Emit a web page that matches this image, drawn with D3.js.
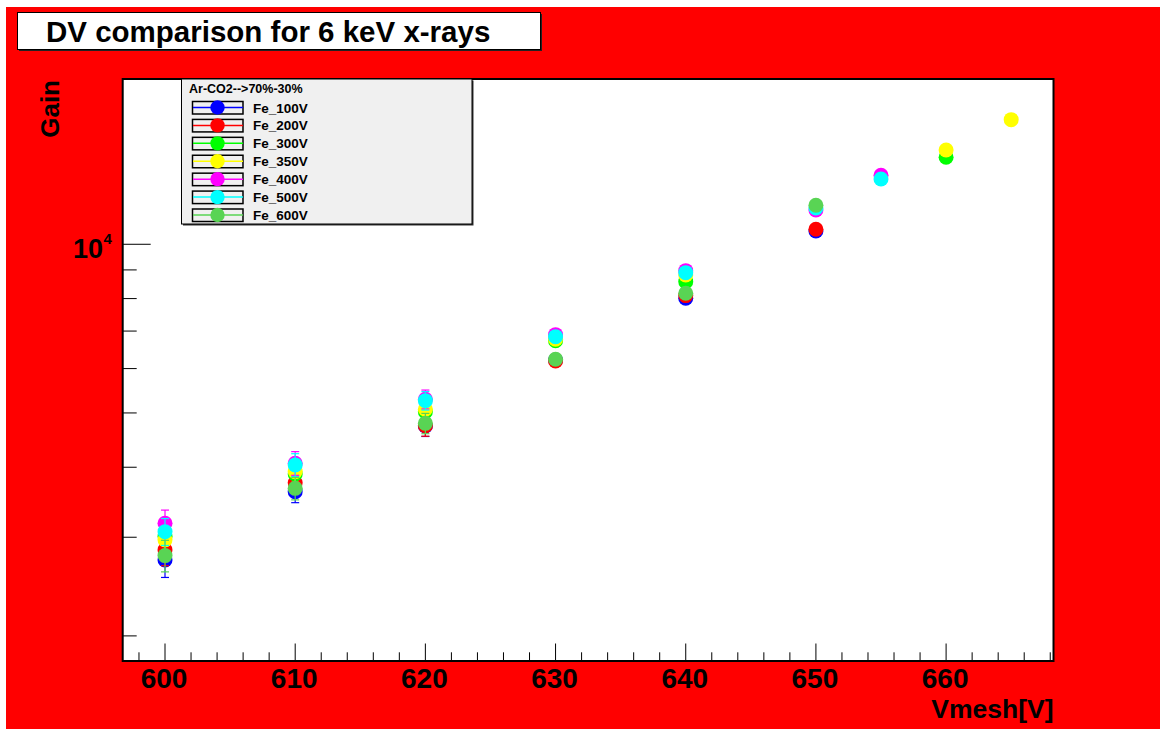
<!DOCTYPE html>
<html>
<head>
<meta charset="utf-8">
<script src="https://cdn.jsdelivr.net/npm/d3@7"></script>
<style>
  body { margin: 0; background: #ffffff; }
  svg text { font-family: "Liberation Sans", Arial, Helvetica, sans-serif; font-weight: bold; }
</style>
</head>
<body>
<script>
/* global d3 */

let TITLE = 'DV comparison for 6 keV x-rays'
let LEGEND_HEADER = 'Ar-CO2-->70%-30%'
let X_LABEL = 'Vmesh[V]'
let Y_LABEL = 'Gain'

let seriesNames = ['Fe_100V', 'Fe_200V', 'Fe_300V', 'Fe_350V', 'Fe_400V', 'Fe_500V', 'Fe_600V']
let seriesColors = ['#0000ff', '#ff0000', '#00ff00', '#ffff00', '#ff00ff', '#00ffff', '#59d454']

let vmesh100 = [600, 610, 620, 630, 640, 650]
let gain100 = [2733, 3618, 4739, 6216, 8012, 10562]
let err100 = [190, 160, 200, 120, 150, 200]

let vmesh200 = [600, 610, 620, 630, 640, 650]
let gain200 = [2848, 3753, 4744, 6191, 8098, 10636]
let err200 = [180, 160, 200, 120, 150, 200]

let vmesh300 = [600, 610, 620, 630, 640, 660]
let gain300 = [3008, 3892, 5026, 6730, 8577, 14298]
let err300 = [180, 170, 200, 130, 160, 250]

let vmesh350 = [600, 610, 620, 630, 640, 660, 665]
let gain350 = [2968, 3929, 5076, 6769, 8815, 14733, 16690]
let err350 = [180, 170, 200, 130, 160, 250, 300]

let vmesh400 = [600, 610, 620, 630, 640, 650, 655]
let gain400 = [3177, 4067, 5288, 6897, 8973, 11515, 13278]
let err400 = [177, 198, 205, 130, 160, 200, 230]

let vmesh500 = [600, 610, 620, 630, 640, 650, 655]
let gain500 = [3070, 4039, 5259, 6842, 8899, 11610, 13078]
let err500 = [170, 190, 200, 130, 160, 200, 230]

let vmesh600 = [600, 610, 620, 630, 640, 650]
let gain600 = [2782, 3668, 4791, 6234, 8178, 11739]
let err600 = [180, 170, 200, 120, 150, 200]

let xMajorTicks = [600, 610, 620, 630, 640, 650, 660]
let xMinorTicks = [598, 602, 604, 606, 608, 612, 614, 616, 618, 622, 624, 626, 628,
  632, 634, 636, 638, 642, 644, 646, 648, 652, 654, 656, 658, 662, 664, 666, 668]
let yMajorTicks = [10000]
let yMinorTicks = [2000, 3000, 4000, 5000, 6000, 7000, 8000, 9000]

let X_DOMAIN = [596.75, 668.25]
let Y_DOMAIN = [1804, 19724]

function main () {
  let series = seriesNames.map((name, i) => {
    let xs = [vmesh100, vmesh200, vmesh300, vmesh350, vmesh400, vmesh500, vmesh600][i]
    let ys = [gain100, gain200, gain300, gain350, gain400, gain500, gain600][i]
    let es = [err100, err200, err300, err350, err400, err500, err600][i]
    return {
      name,
      color: seriesColors[i],
      points: xs.map((x, j) => ({x, y: ys[j], err: es[j]}))
    }
  })
  let chart = new GainChart()
  chart.render(series)
}

class GainChart {
  constructor () {
    this.outer = {width: 1166, height: 729}
    this.frame = {left: 122.7, right: 1053.5, top: 79, bottom: 661}
    this.svg = d3.select('body').append('svg')
      .attr('width', this.outer.width)
      .attr('height', this.outer.height)
    this.scales = {
      x: d3.scaleLinear().domain(X_DOMAIN).range([this.frame.left, this.frame.right]),
      y: d3.scaleLog().domain(Y_DOMAIN).range([this.frame.bottom, this.frame.top])
    }
  }

  render (series) {
    this.renderCanvas()
    this.renderTitle()
    this.renderAxes()
    this.renderSeries(series)
    this.renderLegend(series)
  }

  renderCanvas () {
    this.svg.append('rect')
      .attr('x', 6).attr('y', 7)
      .attr('width', 1154).attr('height', 722)
      .attr('fill', '#ff0000')
    let f = this.frame
    this.svg.append('rect')
      .attr('x', f.left).attr('y', f.top)
      .attr('width', f.right - f.left).attr('height', f.bottom - f.top)
      .attr('fill', '#ffffff')
  }

  renderTitle () {
    let g = this.svg.append('g').attr('class', 'title')
    g.append('rect')
      .attr('x', 19).attr('y', 14)
      .attr('width', 523).attr('height', 37)
      .attr('fill', '#222')
    g.append('rect')
      .attr('x', 17.5).attr('y', 12.5)
      .attr('width', 523).attr('height', 37)
      .attr('fill', '#ffffff')
      .attr('stroke', '#000').attr('stroke-width', 1)
    g.append('text')
      .attr('x', 46).attr('y', 42)
      .attr('font-size', 29.5)
      .attr('fill', '#000')
      .text(TITLE)
  }

  renderAxes () {
    let f = this.frame
    let {x, y} = this.scales
    let axes = this.svg.append('g').attr('class', 'axes')

    let xAxis = axes.append('g')
    xAxis.selectAll('line.major').data(xMajorTicks).enter()
      .append('line').attr('class', 'major')
      .attr('x1', d => x(d)).attr('x2', d => x(d))
      .attr('y1', f.bottom).attr('y2', f.bottom - 17.5)
    xAxis.selectAll('line.minor').data(xMinorTicks).enter()
      .append('line').attr('class', 'minor')
      .attr('x1', d => x(d)).attr('x2', d => x(d))
      .attr('y1', f.bottom).attr('y2', f.bottom - 8.7)
    xAxis.selectAll('line').attr('stroke', '#000').attr('stroke-width', 1)
    xAxis.selectAll('text').data(xMajorTicks).enter()
      .append('text')
      .attr('x', d => x(d) - 1).attr('y', 687.5)
      .attr('text-anchor', 'middle')
      .attr('font-size', 28)
      .text(d => d3.format('d')(d))

    let yAxis = axes.append('g')
    yAxis.selectAll('line.major').data(yMajorTicks).enter()
      .append('line').attr('class', 'major')
      .attr('x1', f.left).attr('x2', f.left + 28)
      .attr('y1', d => y(d)).attr('y2', d => y(d))
    yAxis.selectAll('line.minor').data(yMinorTicks).enter()
      .append('line').attr('class', 'minor')
      .attr('x1', f.left).attr('x2', f.left + 14)
      .attr('y1', d => y(d)).attr('y2', d => y(d))
    yAxis.selectAll('line').attr('stroke', '#000').attr('stroke-width', 1)
    yAxis.selectAll('text.mantissa').data(yMajorTicks).enter()
      .append('text').attr('class', 'mantissa')
      .attr('x', 103).attr('y', d => y(d) + 14)
      .attr('text-anchor', 'end')
      .attr('font-size', 27)
      .text('10')
    yAxis.selectAll('text.exp').data(yMajorTicks).enter()
      .append('text').attr('class', 'exp')
      .attr('x', 103.5).attr('y', d => y(d))
      .attr('font-size', 15)
      .text(d => String(Math.round(Math.log10(d))))

    axes.append('rect')
      .attr('x', f.left).attr('y', f.top)
      .attr('width', f.right - f.left).attr('height', f.bottom - f.top)
      .attr('fill', 'none')
      .attr('stroke', '#000').attr('stroke-width', 2)

    axes.append('text')
      .attr('x', f.right).attr('y', 718)
      .attr('text-anchor', 'end')
      .attr('font-size', 26.5)
      .text(X_LABEL)
    axes.append('text')
      .attr('transform', `translate(59, ${f.top + 1}) rotate(-90)`)
      .attr('text-anchor', 'end')
      .attr('font-size', 26)
      .text(Y_LABEL)
  }

  renderSeries (series) {
    let {x, y} = this.scales
    let plot = this.svg.append('g').attr('class', 'series')
    for (let s of series) {
      let g = plot.append('g').attr('class', s.name)
      let bars = g.selectAll('g.err').data(s.points).enter()
        .append('g').attr('class', 'err')
        .attr('stroke', s.color).attr('stroke-width', 1.2)
      bars.append('line')
        .attr('x1', d => x(d.x)).attr('x2', d => x(d.x))
        .attr('y1', d => y(d.y - d.err)).attr('y2', d => y(d.y + d.err))
      bars.append('line')
        .attr('x1', d => x(d.x) - 4).attr('x2', d => x(d.x) + 4)
        .attr('y1', d => y(d.y + d.err)).attr('y2', d => y(d.y + d.err))
      bars.append('line')
        .attr('x1', d => x(d.x) - 4).attr('x2', d => x(d.x) + 4)
        .attr('y1', d => y(d.y - d.err)).attr('y2', d => y(d.y - d.err))
      g.selectAll('circle').data(s.points).enter()
        .append('circle')
        .attr('cx', d => x(d.x))
        .attr('cy', d => y(d.y))
        .attr('r', 7.5)
        .attr('fill', s.color)
    }
  }

  renderLegend (series) {
    let box = {x: 181.5, y: 79, width: 290.5, height: 145}
    let g = this.svg.append('g').attr('class', 'legend')
    g.append('rect')
      .attr('x', box.x + 1.5).attr('y', box.y + 1.5)
      .attr('width', box.width).attr('height', box.height)
      .attr('fill', '#333')
    g.append('rect')
      .attr('x', box.x).attr('y', box.y)
      .attr('width', box.width).attr('height', box.height)
      .attr('fill', '#f0f0f0')
      .attr('stroke', '#000').attr('stroke-width', 1)
    g.append('text')
      .attr('x', 189).attr('y', 93)
      .attr('font-size', 12.5)
      .text(LEGEND_HEADER)
    let rowY = d3.scaleLinear().domain([0, series.length - 1]).range([107.5, 215])
    let rows = g.selectAll('g.entry').data(series).enter()
      .append('g').attr('class', 'entry')
      .attr('transform', (d, i) => `translate(0, ${rowY(i)})`)
    rows.append('rect')
      .attr('x', 192.5).attr('y', -6)
      .attr('width', 50.5).attr('height', 12.5)
      .attr('fill', 'none')
      .attr('stroke', '#000').attr('stroke-width', 1.5)
    rows.append('line')
      .attr('x1', 193).attr('x2', 243)
      .attr('y1', 0).attr('y2', 0)
      .attr('stroke', d => d.color).attr('stroke-width', 1.5)
    rows.append('circle')
      .attr('cx', 217.5).attr('cy', 0)
      .attr('r', 7.2)
      .attr('fill', d => d.color)
    rows.append('text')
      .attr('x', 253).attr('y', 5)
      .attr('font-size', 13.5)
      .text(d => d.name)
  }
}

main()
</script>
</body>
</html>
